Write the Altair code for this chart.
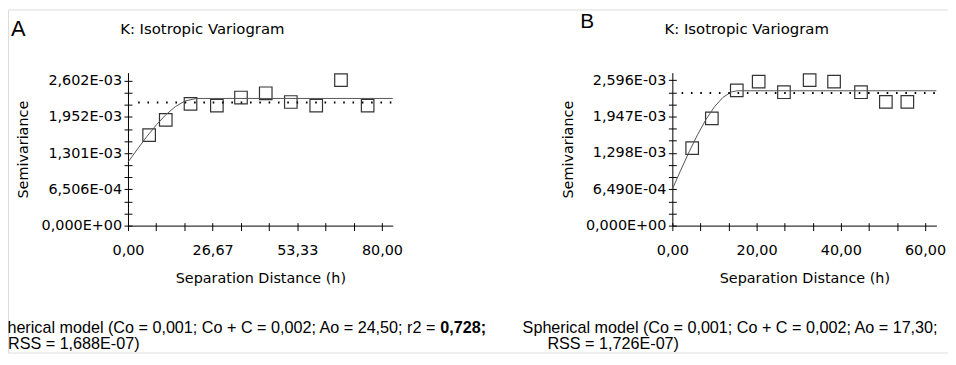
import altair as alt
import pandas as pd

# ---------------- Panel A data ----------------
a_lag = [6.66, 11.9, 19.7, 28.0, 35.6, 43.4, 51.3, 59.3, 67.1, 75.5]
a_semi = [1.627e-3, 1.901e-3, 2.187e-3, 2.156e-3, 2.302e-3, 2.379e-3,
          2.222e-3, 2.156e-3, 2.614e-3, 2.156e-3]
a_model_lag = [0, 3, 6, 9, 12, 15, 18, 21.6, 83.4]
a_model = [1.140e-3, 1.377e-3, 1.605e-3, 1.815e-3, 1.997e-3, 2.142e-3,
           2.241e-3, 2.286e-3, 2.286e-3]
a_var_lag = [3.2, 83.4]
a_var = [2.215e-3, 2.215e-3]
a_x_major = [0.0, 26.667, 53.333, 80.0]
a_x_labels = ["0,00", "26,67", "53,33", "80,00"]
a_y_major = [0.0, 6.506e-4, 1.301e-3, 1.952e-3, 2.602e-3]
a_y_labels = ["0,000E+00", "6,506E-04", "1,301E-03", "1,952E-03", "2,602E-03"]
a_x_max = 83.4
a_y_max = 2.750e-3

# ---------------- Panel B data ----------------
b_lag = [4.71, 9.38, 15.3, 20.5, 26.5, 32.6, 38.4, 44.8, 50.7, 55.8]
b_semi = [1.384e-3, 1.915e-3, 2.413e-3, 2.570e-3, 2.381e-3, 2.597e-3,
          2.570e-3, 2.381e-3, 2.209e-3, 2.209e-3]
b_model_lag = [0, 2, 4, 6, 8, 10, 12, 14, 15.4, 62.7]
b_model = [0.650e-3, 0.991e-3, 1.319e-3, 1.625e-3, 1.896e-3, 2.121e-3,
           2.288e-3, 2.386e-3, 2.407e-3, 2.407e-3]
b_var_lag = [2.2, 62.7]
b_var = [2.366e-3, 2.366e-3]
b_x_major = [0.0, 20.0, 40.0, 60.0]
b_x_labels = ["0,00", "20,00", "40,00", "60,00"]
b_y_major = [0.0, 6.490e-4, 1.298e-3, 1.947e-3, 2.596e-3]
b_y_labels = ["0,000E+00", "6,490E-04", "1,298E-03", "1,947E-03", "2,596E-03"]
b_x_max = 62.7
b_y_max = 2.731e-3

# ---------------- Texts ----------------
panel_letters = ["A", "B"]
panel_title = "K: Isotropic Variogram"
x_title = "Separation Distance (h)"
y_title = "Semivariance"
a_caption_1 = "Spherical model (Co = 0,001; Co + C = 0,002; Ao = 24,50; r2 ="
a_caption_bold = "0,728;"
a_caption_2 = "RSS = 1,688E-07)"
b_caption_1 = "Spherical model (Co = 0,001; Co + C = 0,002; Ao = 17,30;"
b_caption_2 = "RSS = 1,726E-07)"

W, H = 948, 346
FONT = "DejaVu Sans"
CAP_FONT = "Liberation Sans"
FS = 14.5
CAP_FS = 16.3
Y0, Y1 = 218, 63.7          # pixel rows of y axis ends
A_X0, A_X1 = 121, 388       # panel A x axis ends
B_X0, B_X1 = 670, 936.3     # panel B x axis ends


def with_minor(majors):
    vals = []
    for i in range(len(majors) - 1):
        step = (majors[i + 1] - majors[i]) / 3.0
        for j in range(3):
            vals.append(majors[i] + j * step)
    vals.append(majors[-1])
    return vals


def label_expr(majors, labels, tol):
    expr = "''"
    for v, l in reversed(list(zip(majors, labels))):
        expr = f"abs(datum.value - ({v})) < {tol} ? '{l}' : ({expr})"
    return expr


def panel(lag, semi, mlag, model, vlag, var, xmaj, xlab, ymaj, ylab,
          xmax, ymax, x0, x1):
    xs = alt.Scale(domain=[0, xmax], range=[x0, x1], nice=False, zero=False)
    ys = alt.Scale(domain=[0, ymax], range=[Y0, Y1], nice=False, zero=False)
    xticks = with_minor(xmaj)
    yticks = with_minor(ymaj)

    common = dict(grid=False, domainColor="black", tickColor="black",
                  labelColor="black", titleColor="black", labelFont=FONT,
                  titleFont=FONT, labelFontSize=FS, titleFontSize=FS,
                  titleFontWeight="normal", labelOverlap=False,
                  labelFlush=False, tickWidth=1, domainWidth=1)

    ax_bottom = alt.Axis(orient="bottom", values=xticks,
                         labelExpr=label_expr(xmaj, xlab, 0.5),
                         offset=Y0 - H, tickSize=5, labelPadding=24,
                         labelBaseline="alphabetic", title=x_title,
                         titleBaseline="alphabetic", titleY=57, **common)
    ax_left = alt.Axis(orient="left", values=yticks,
                       labelExpr=label_expr(ymaj, ylab, 1e-6),
                       offset=-x0, tickSize=4, labelPadding=2.5,
                       title=y_title, titleAngle=270,
                       titleBaseline="alphabetic", titleX=-101, **common)
    ax_top = alt.Axis(orient="top", values=xticks, labels=False,
                      domain=False, offset=-Y0, tickSize=3, title=None,
                      grid=False, tickColor="black")
    ax_right = alt.Axis(orient="right", values=yticks, labels=False,
                        domain=False, offset=x0 - W, tickSize=4, title=None,
                        grid=False, tickColor="black")

    pts = alt.Chart(pd.DataFrame({"h": lag, "g": semi})).mark_point(
        shape="square", filled=False, size=160, strokeWidth=1.2,
        color="#333333", opacity=1
    ).encode(x=alt.X("h:Q", scale=xs, axis=ax_bottom),
             y=alt.Y("g:Q", scale=ys, axis=ax_left))

    curve = alt.Chart(pd.DataFrame({"h": mlag, "g": model})).mark_line(
        color="#555555", strokeWidth=1
    ).encode(x=alt.X("h:Q", scale=xs, axis=ax_top),
             y=alt.Y("g:Q", scale=ys, axis=ax_right))

    dotted = alt.Chart(pd.DataFrame({"h": vlag, "g": var})).mark_line(
        color="black", strokeWidth=2, strokeDash=[1.6, 7.8]
    ).encode(x=alt.X("h:Q", scale=xs, axis=None),
             y=alt.Y("g:Q", scale=ys, axis=None))
    return [pts, curve, dotted]


def txt(s, x, y, size, font=FONT, align="left", weight="normal"):
    return alt.Chart().mark_text(
        text=s, font=font, fontSize=size, align=align, baseline="alphabetic",
        fontWeight=weight, color="black"
    ).encode(x=alt.value(x), y=alt.value(y))


layers = []
layers += panel(a_lag, a_semi, a_model_lag, a_model, a_var_lag, a_var,
                a_x_major, a_x_labels, a_y_major, a_y_labels,
                a_x_max, a_y_max, A_X0, A_X1)
layers += panel(b_lag, b_semi, b_model_lag, b_model, b_var_lag, b_var,
                b_x_major, b_x_labels, b_y_major, b_y_labels,
                b_x_max, b_y_max, B_X0, B_X1)

layers += [
    txt(panel_letters[0], 3, 27, 22, font=CAP_FONT),
    txt(panel_letters[1], 577, 19, 21, font=CAP_FONT),
    txt(panel_title, 196, 25, 15, align="center"),
    txt(panel_title, 745, 25, 15, align="center"),
    txt(a_caption_1, 431, 326, CAP_FS, font=CAP_FONT, align="right"),
    txt(a_caption_bold, 436, 326, CAP_FS, font=CAP_FONT, weight="bold"),
    txt(a_caption_2, 0, 342.5, CAP_FS, font=CAP_FONT),
    txt(b_caption_1, 519, 326, CAP_FS, font=CAP_FONT),
    txt(b_caption_2, 544, 342.5, CAP_FS, font=CAP_FONT),
]

chart = alt.layer(*layers).resolve_scale(
    x="independent", y="independent"
).resolve_axis(
    x="independent", y="independent"
).properties(
    width=W, height=H, padding=0,
    autosize=alt.AutoSizeParams(type="none")
).configure_view(stroke=None).configure(background="white")

chart.save("out.html", embed_options={"renderer": "svg", "actions": False})
